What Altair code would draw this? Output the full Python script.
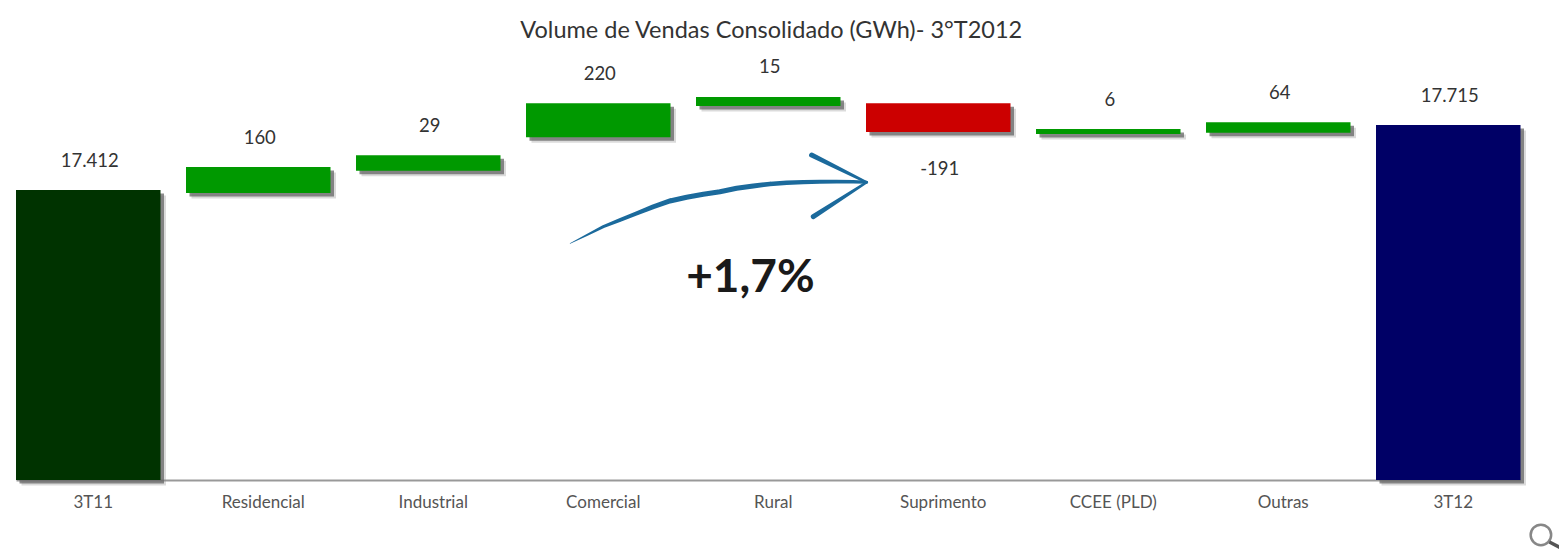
import altair as alt
import pandas as pd

FONT = "Lato"

categories = ["3T11", "Residencial", "Industrial", "Comercial", "Rural", "Suprimento", "CCEE (PLD)", "Outras", "3T12"]
labels = ["17.412", "160", "29", "220", "15", "-191", "6", "64", "17.715"]
low = [16060, 17398, 17502, 17658, 17804, 17682, 17673, 17679, 16060]
high = [17412, 17519, 17574, 17816, 17846, 17816, 17696, 17728, 17715]
kind = ["start", "up", "up", "up", "up", "down", "up", "up", "end"]

kinds = ["start", "up", "down", "end"]
kind_colors = ["#003300", "#009900", "#CC0000", "#000066"]

arrow_seg = [0] * 19 + [1, 1, 2, 2]
arrow_x = [3.259, 3.357, 3.455, 3.553, 3.651, 3.749, 3.847, 3.945, 4.043, 4.141, 4.239, 4.337, 4.435, 4.533, 4.631, 4.729, 4.827, 4.925, 5.004,
           4.68, 5.004, 4.69, 5.004]
arrow_y = [17163, 17202, 17241, 17272, 17303, 17334, 17361, 17378, 17392, 17404, 17420, 17431, 17440, 17446, 17449, 17451, 17451, 17451, 17448,
           17575, 17448, 17288, 17448]
arrow_w = [2, 8, 12, 15, 17, 19, 20, 20, 20, 20, 20, 20, 19, 18, 17, 16, 15, 14, 12,
           20, 10, 20, 10]

note_x = [4.32]
note_y = [17002]
note_text = ["+1,7%"]

lens_x = [8.97]
lens_y = [15804]
handle_x = [9.02, 9.11]
handle_y = [15771, 15734]

X_SPAN = 8.85
Y_DOMAIN = [16060, 18064.7]

df = pd.DataFrame({"cat": categories, "label": labels, "low": low, "high": high, "kind": kind})
arrow = pd.DataFrame({"seg": arrow_seg, "x": arrow_x, "y": arrow_y, "w": arrow_w})
arrow["i"] = range(len(arrow))
note = pd.DataFrame({"x": note_x, "y": note_y, "t": note_text})
lens = pd.DataFrame({"x": lens_x, "y": lens_y})
handle = pd.DataFrame({"x": handle_x, "y": handle_y})

band = alt.Scale(type="band", domain=categories, paddingInner=0.15, paddingOuter=0, round=False)
yscale = alt.Scale(domain=Y_DOMAIN, nice=False, zero=False)
numx = alt.Scale(domain=[0, X_SPAN], nice=False, zero=False)


def X(axis=None):
    return alt.X("cat:N", scale=band, sort=None, axis=axis, title=None)


def Y(field="high"):
    return alt.Y(f"{field}:Q", scale=yscale, axis=None, title=None)


x_axis = alt.Axis(
    title=None, labelAngle=0, ticks=False, domain=True, domainColor="#999999", domainWidth=2,
    labelFont=FONT, labelFontSize=17, labelColor="#555555", labelPadding=14, labelOffset=5, grid=False,
)

shadow_wide = alt.Chart(df).mark_bar(color="#888888", opacity=0.3, xOffset=5.5, yOffset=5.5, y2Offset=5.5).encode(
    x=X(), y=Y(), y2="low:Q")
shadow = alt.Chart(df).mark_bar(color="#666666", opacity=0.75, xOffset=3.5, yOffset=3.5, y2Offset=3.5).encode(
    x=X(), y=Y(), y2="low:Q")
bars = alt.Chart(df).mark_bar().encode(
    x=X(x_axis), y=Y(), y2="low:Q",
    color=alt.Color("kind:N", scale=alt.Scale(domain=kinds, range=kind_colors), legend=None),
)

text_up = alt.Chart(df[df["kind"] != "down"]).mark_text(
    font=FONT, fontSize=18.5, color="#333333", dy=-29.5, dx=1.5).encode(x=X(), y=Y(), text="label:N")
text_down = alt.Chart(df[df["kind"] == "down"]).mark_text(
    font=FONT, fontSize=18.5, color="#333333", dy=37, dx=1.5).encode(x=X(), y=Y("low"), text="label:N")

arrow_layer = alt.Chart(arrow).mark_trail(color="#1B6A9C", opacity=1).encode(
    x=alt.X("x:Q", scale=numx, axis=None),
    y=alt.Y("y:Q", scale=yscale, axis=None),
    size=alt.Size("w:Q", scale=alt.Scale(domain=[0, 100], range=[0, 25]), legend=None),
    detail="seg:N",
    order="i:Q",
)

note_layer = alt.Chart(note).mark_text(font=FONT, fontSize=46, fontWeight="bold", color="#1A1A1A").encode(
    x=alt.X("x:Q", scale=numx, axis=None),
    y=alt.Y("y:Q", scale=yscale, axis=None),
    text="t:N",
)

lens_layer = alt.Chart(lens).mark_point(shape="circle", filled=False, size=420, color="#555555", strokeWidth=2.5, clip=False).encode(
    x=alt.X("x:Q", scale=numx, axis=None),
    y=alt.Y("y:Q", scale=yscale, axis=None),
)
handle_layer = alt.Chart(handle).mark_line(color="#555555", strokeWidth=3.5, clip=False).encode(
    x=alt.X("x:Q", scale=numx, axis=None),
    y=alt.Y("y:Q", scale=yscale, axis=None),
)

chart = alt.layer(
    shadow_wide, shadow, bars, text_up, text_down, arrow_layer, note_layer, lens_layer, handle_layer
).resolve_scale(x="independent").properties(
    width=1504.5,
    height=430,
    autosize=alt.AutoSizeParams(type="none"),
    padding={"left": 8, "top": 42, "right": 38.5, "bottom": 70},
    title=alt.TitleParams(
        "Volume de Vendas Consolidado (GWh)-  3°T2012",
        font=FONT, fontSize=23.5, fontWeight="normal", color="#333333",
        anchor="middle", dx=3, offset=8,
    ),
    background="white",
).configure_view(stroke=None)

chart.save("out.html", embed_options={"renderer": "svg", "actions": False})
